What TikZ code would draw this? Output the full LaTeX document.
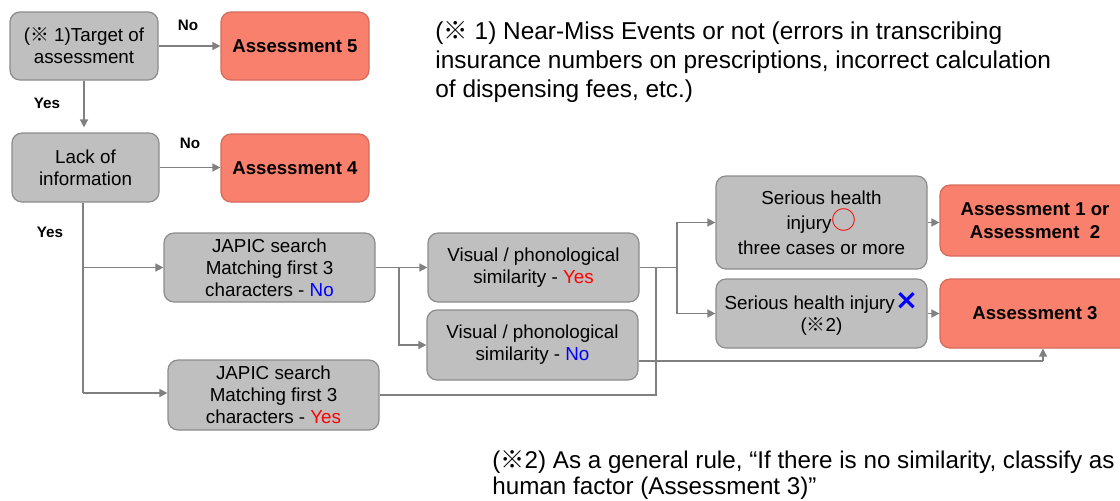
\documentclass[tikz,border=0pt]{standalone}
\usepackage{fontspec}
\setmainfont{Liberation Sans}
\newfontfamily\cjk{Noto Sans CJK JP}
\newfontfamily\dejavu{DejaVu Sans}
\usetikzlibrary{arrows.meta}
\definecolor{boxgray}{HTML}{BFBFBF}
\definecolor{boxedge}{HTML}{8C8C8C}
\definecolor{salmon}{HTML}{F8806C}
\definecolor{salmonedge}{HTML}{D56A5A}
\definecolor{linegray}{HTML}{808080}
\definecolor{txtred}{HTML}{FF0000}
\definecolor{txtblue}{HTML}{0000FF}
\tikzset{
  graybox/.style={draw=boxedge, fill=boxgray, rounded corners=5pt, line width=0.6pt, align=center, inner sep=0pt, font=\fontsize{9.4}{11}\selectfont},
  redbox/.style={draw=salmonedge, fill=salmon, rounded corners=5pt, line width=0.6pt, align=center, inner sep=0pt, font=\fontsize{9.3}{11.5}\selectfont\bfseries},
  conn/.style={draw=linegray, line width=0.75pt},
  arr/.style={conn, -{Triangle[length=4pt,width=4pt]}},
  lbl/.style={font=\fontsize{7.6}{9}\selectfont\bfseries, inner sep=0pt},
  note/.style={align=left, anchor=west, inner sep=0pt},
}
\newcommand{\kome}{{\cjk ※}}
\begin{document}
\begin{tikzpicture}[x=0.5pt,y=-0.5pt]
\useasboundingbox (0,0) rectangle (1120,500);
\clip (0,0) rectangle (1120,500);
% boxes
\node[graybox, minimum width=74pt, minimum height=34pt] (t1) at (84,46) {(\kome\ 1)Target of\\assessment};
\node[redbox, minimum width=74pt, minimum height=34pt] (a5) at (295,46) {Assessment 5};
\node[graybox, minimum width=73.5pt, minimum height=34.5pt] (lack) at (85.5,167.5) {Lack of\\information};
\node[redbox, minimum width=74pt, minimum height=34pt] (a4) at (295,168) {Assessment 4};
\node[graybox, minimum width=105.5pt, minimum height=34.5pt] (japic1) at (269.5,267.5) {JAPIC search\\Matching first 3\\characters - \textcolor{txtblue}{No}};
\node[graybox, minimum width=105.5pt, minimum height=35pt] (japic2) at (273.5,395) {JAPIC search\\Matching first 3\\characters - \textcolor{txtred}{Yes}};
\node[graybox, minimum width=105.5pt, minimum height=34.5pt] (vpyes) at (533.5,267.5) {Visual / phonological\\similarity - \textcolor{txtred}{Yes}};
\node[graybox, minimum width=105.5pt, minimum height=35pt] (vpno) at (532.5,345) {Visual / phonological\\similarity - \textcolor{txtblue}{No}};
\node[graybox, minimum width=105.5pt, minimum height=46.5pt, font=\fontsize{9.4}{12.5}\selectfont] (shi1) at (821.5,222.5) {Serious health\\injury{\cjk\fontsize{12.5}{11}\selectfont\textcolor{txtred}{○}}\\three cases or more};
\node[graybox, minimum width=105.5pt, minimum height=34.5pt] (shi2) at (821.5,313.5) {Serious health injury{\dejavu\bfseries\fontsize{14}{11}\selectfont\textcolor{txtblue}{×}}\\(\kome2)};
\node[redbox, minimum width=95pt, minimum height=35.5pt] (a12) at (1035,220.5) {Assessment 1 or\\Assessment\ \ 2};
\node[redbox, minimum width=95pt, minimum height=34.5pt] (a3) at (1035,313.5) {Assessment 3};
% labels
\node[lbl] (no1) at (188,25) {No};
\node[lbl] (yes1) at (47,103) {Yes};
\node[lbl] (no2) at (190,143) {No};
\node[lbl] (yes2) at (50,232) {Yes};
% notes
\node[note, font=\fontsize{12.2}{14.7}\selectfont] (note1) at (435,62) {(\kome\ 1) Near-Miss Events or not (errors in transcribing\\insurance numbers on prescriptions, incorrect calculation\\of dispensing fees, etc.)};
\node[note, font=\fontsize{12.1}{12.7}\selectfont] (note2) at (492,475) {(\kome2) As a general rule, “If there is no similarity, classify as\\human factor (Assessment 3)”};
% connectors
\draw[arr] (t1.east) -- (a5.west);
\draw[arr, shorten >=2.5pt] (t1.south) -- (t1.south |- lack.north);
\draw[arr] (lack.east) -- (lack.east -| a4.west);
\coordinate (j1) at (83,267.5);
\coordinate (j2) at (83,393);
\draw[conn] (lack.south -| j1) -- (j2);
\draw[arr] (j1) -- (japic1.west);
\draw[arr] (j2) -- (j2 -| japic2.west);
\coordinate (b1) at (399,267.5);
\draw[conn] (japic1.east) -- (b1);
\draw[arr] (b1) -- (vpyes.west);
\draw[arr] (b1) |- (vpno.west);
\coordinate (b2) at (677,267.5);
\coordinate (m1) at (656,267.5);
\draw[conn] (vpyes.east) -- (b2);
\draw[arr] (b2) |- (shi1.west);
\draw[arr] (b2) |- (shi2.west);
\draw[conn] (japic2.east) -| (m1);
\coordinate (c3) at (1043,361);
\draw[conn] (vpno.east |- c3) -- (c3);
\draw[arr] (c3) -- (c3 |- a3.south);
\draw[arr] (shi1.east) -- (shi1.east -| a12.west);
\draw[arr] (shi2.east) -- (shi2.east -| a3.west);
\end{tikzpicture}
\end{document}
